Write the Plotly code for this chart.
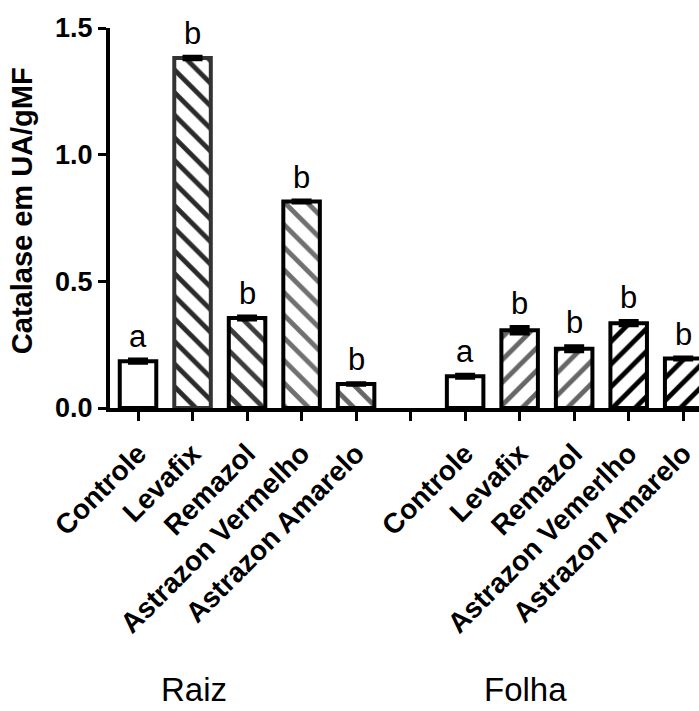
import plotly.graph_objects as go

# ---- data ----
categories = ["Controle", "Levafix", "Remazol", "Astrazon Vermelho", "Astrazon Amarelo",
              "",
              "Controle", "Levafix", "Remazol", "Astrazon Vemerlho", "Astrazon Amarelo"]
positions = [0, 1, 2, 3, 4, 6, 7, 8, 9, 10]
values = [0.185, 1.382, 0.355, 0.815, 0.095,
          0.125, 0.307, 0.234, 0.335, 0.195]
errors = [0.006, 0.005, 0.006, 0.004, 0.003,
          0.006, 0.013, 0.010, 0.008, 0.004]
letters = ["a", "b", "b", "b", "b", "a", "b", "b", "b", "b"]
group_labels = ["Raiz", "Folha"]
group_centers = [1.03, 7.1]

# ---- styles ----
shapes = ["", "\\", "\\", "\\", "\\", "", "/", "/", "/", "/"]
fg = ["#000", "#2a2a2a", "#3c3c3c", "#707070", "#666666", "#000", "#666666", "#666666", "#000", "#000"]
line_colors = ["#000", "#333", "#000", "#000", "#000", "#000", "#000", "#000", "#000", "#000"]

FONT = "Arial, Liberation Sans, Helvetica, sans-serif"

fig = go.Figure()
fig.add_trace(go.Bar(
    x=positions, y=values, width=0.67,
    marker=dict(
        color="white",
        line=dict(color=line_colors, width=4),
        pattern=dict(shape=shapes, fgcolor=fg, bgcolor="white", size=16, solidity=0.3,
                     fillmode="replace"),
    ),
    error_y=dict(type="data", array=errors, visible=True, color="black", thickness=4, width=10),
    showlegend=False,
))

annotations = []
for xp, v, e, t in zip(positions, values, errors, letters):
    annotations.append(dict(x=xp, y=v + e, xref="x", yref="y", text=t, showarrow=False,
                            yanchor="bottom", yshift=4,
                            font=dict(family=FONT, size=31, color="black")))
for gx, gl in zip(group_centers, group_labels):
    annotations.append(dict(x=gx, y=-0.742, xref="x", yref="paper", text=gl, showarrow=False,
                            yanchor="middle", xanchor="center",
                            font=dict(family=FONT, size=33, color="black")))
annotations.append(dict(x=0, y=0.518, xref="paper", yref="paper", text="Catalase em UA/gMF",
                        textangle=-90, showarrow=False, xanchor="center", yanchor="middle",
                        xshift=-88,
                        font=dict(family=FONT, size=29, color="black", weight="bold")))

fig.update_layout(
    width=699, height=711,
    margin=dict(l=110, r=0, t=28, b=303),
    paper_bgcolor="white", plot_bgcolor="white",
    annotations=annotations,
    xaxis=dict(
        range=[-0.514, 10.29],
        tickmode="array", tickvals=list(range(11)), ticktext=categories,
        tickangle=-45, ticks="outside", ticklen=9, tickwidth=3, tickcolor="black",
        showline=True, linewidth=4, linecolor="black",
        showgrid=False, zeroline=False, ticklabelstandoff=5,
        tickfont=dict(family=FONT, size=28, color="black", weight="bold"),
    ),
    yaxis=dict(
        range=[0, 1.5], tickmode="array", tickvals=[0, 0.5, 1.0, 1.5], tickformat=".1f",
        ticks="outside", ticklen=8, tickwidth=3, tickcolor="black",
        showline=True, linewidth=4, linecolor="black",
        showgrid=False, zeroline=False, ticklabelstandoff=0,
        tickfont=dict(family=FONT, size=27, color="black", weight="bold"),
    ),
)

fig.write_html("out.html")
